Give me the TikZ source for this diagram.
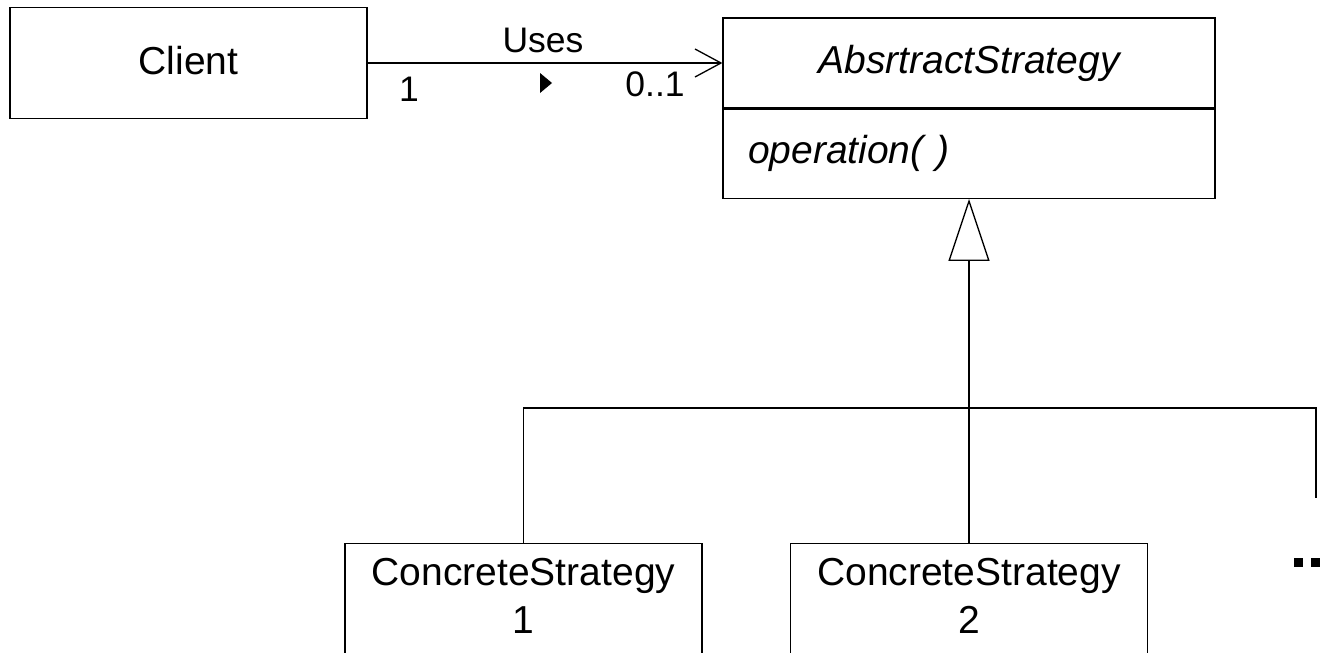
\documentclass[tikz,border=0pt]{standalone}
\usepackage{fontspec}
\setmainfont{Liberation Sans}
\usetikzlibrary{arrows.meta}
\begin{document}
\begin{tikzpicture}[x=1pt, y=-1pt, line width=1.3pt,
  classfont/.style={font=\fontsize{39}{48}\selectfont},
  labelfont/.style={font=\fontsize{35.5}{42}\selectfont},
  umlbox/.style={draw, fill=white, rectangle, inner sep=0pt, classfont},
  roletext/.style={labelfont, inner sep=0pt, anchor=base},
  classtext/.style={classfont, inner sep=0pt, anchor=base, align=center},
  assoc/.style={-{Straight Barb[length=26pt, width=28pt]}},
  generalize/.style={-{Triangle[open, length=62pt, width=41pt]}}]
\fill[white] (0,0) rectangle (1328,653);
\useasboundingbox (0,0) rectangle (1328,653);
\clip (0,0) rectangle (1328,653);

% client class
\node[umlbox, minimum width=357pt, minimum height=111pt,
      text height=28pt, text depth=5pt] (client) at (188.5,63) {Client};

% abstract strategy: name compartment and operations compartment
\node[umlbox, minimum width=492pt, minimum height=90pt] (abshead) at (969,63)
  {\itshape AbsrtractStrategy};
\node[umlbox, minimum height=89pt, text width=442pt, inner xsep=25pt,
      align=left, anchor=north] (absbody) at (abshead.south) {\itshape operation( )};

% association with its role labels
\draw[assoc] (client.east) -- (abshead.west);
\node[roletext] (uses) at (543,52) {Uses};
\node[roletext] (rolea) at (409,101) {1};
\node[roletext] (roleb) at (655,96) {0..1};
\fill (540,73) -- (552,83) -- (540,93) -- cycle;

% concrete strategies (boxes run past the lower edge)
\node[umlbox, minimum width=357pt, minimum height=130pt, anchor=north] (cs1) at (523.5,543) {};
\node[umlbox, minimum width=357pt, minimum height=130pt, anchor=north] (cs2) at (969,543) {};

% generalization tree
\coordinate (join) at (969,408);
\coordinate (jright) at (1316,408);
\coordinate (more) at (1316,498);
\draw[generalize] (join) -- (absbody.south);
\draw (cs1.north) |- (jright) -- (more);
\draw (cs2.north) -- (join);

% class names of the concrete strategies (baseline of the last line)
\node[classtext] (cs1text) at (523.5,633) {ConcreteStrategy\\1};
\node[classtext] (cs2text) at (969,633) {ConcreteStrategy\\2};

% ellipsis for further strategies
\fill (1294,558) rectangle (1303,567);
\fill (1311,558) rectangle (1320,567);
\end{tikzpicture}
\end{document}
